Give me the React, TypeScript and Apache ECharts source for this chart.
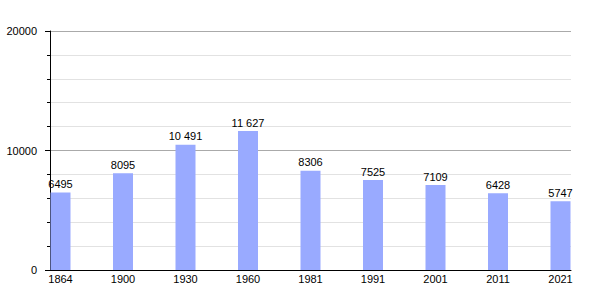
import React, { useEffect, useRef } from "react";
import * as echarts from "echarts";

const years = ["1864", "1900", "1930", "1960", "1981", "1991", "2001", "2011", "2021"];
const population = [6495, 8095, 10491, 11627, 8306, 7525, 7109, 6428, 5747];
const yMin = 0;
const yMax = 20000;
const yInterval = 10000;

const FONT = "'Liberation Sans', Arial, sans-serif";

function fmt(v: number): string {
  const s = String(v);
  if (v >= 10000) return s.slice(0, s.length - 3) + " " + s.slice(s.length - 3);
  return s;
}

export default function App() {
  const ref = useRef<HTMLDivElement>(null);
  useEffect(() => {
    document.body.style.margin = "0";
    const chart = echarts.init(ref.current!, null, { renderer: "svg" });
    chart.setOption({
      animation: false,
      backgroundColor: "#ffffff",
      grid: [
        { left: 50, right: 29, top: 31, bottom: 30 },
        { left: 60.5, right: 39.5, top: 31, bottom: 30 },
      ],
      xAxis: [
        {
          gridIndex: 0,
          type: "value",
          min: 0,
          max: 1,
          axisLine: { show: true, onZero: false, lineStyle: { color: "#000", width: 1 } },
          axisTick: { show: false },
          axisLabel: { show: false },
          splitLine: { show: false },
        },
        {
          gridIndex: 1,
          type: "category",
          data: years,
          boundaryGap: false,
          axisLine: { show: false },
          axisTick: { show: false },
          axisLabel: {
            show: true,
            interval: 0,
            margin: 3,
            fontSize: 11,
            color: "#000",
            fontFamily: FONT,
          },
          splitLine: { show: false },
        },
      ],
      yAxis: [
        {
          gridIndex: 0,
          type: "value",
          min: yMin,
          max: yMax,
          interval: yInterval,
          axisLine: { show: true, lineStyle: { color: "#000", width: 1 } },
          axisTick: { show: true, length: 5, lineStyle: { color: "#000" } },
          minorTick: { show: true, splitNumber: 5, length: 3, lineStyle: { color: "#000" } },
          axisLabel: {
            show: true,
            margin: 13,
            fontSize: 11,
            color: "#000",
            fontFamily: FONT,
            formatter: (v: number) => String(v),
          },
          splitLine: { show: true, lineStyle: { color: "#aaaaaa", width: 1 } },
          minorSplitLine: { show: true, lineStyle: { color: "#e2e2e2", width: 1 } },
        },
        {
          gridIndex: 1,
          type: "value",
          min: yMin,
          max: yMax,
          interval: yInterval,
          show: false,
          splitLine: { show: false },
        },
      ],
      series: [
        {
          type: "bar",
          xAxisIndex: 1,
          yAxisIndex: 1,
          data: population,
          barWidth: 20,
          itemStyle: { color: "#99aaff" },
          label: {
            show: true,
            position: "top",
            distance: 3,
            fontSize: 11,
            color: "#000",
            fontFamily: FONT,
            formatter: (p: any) => fmt(p.value),
          },
        },
      ],
    });
    return () => chart.dispose();
  }, []);
  return <div ref={ref} style={{ width: 600, height: 300 }} />;
}
